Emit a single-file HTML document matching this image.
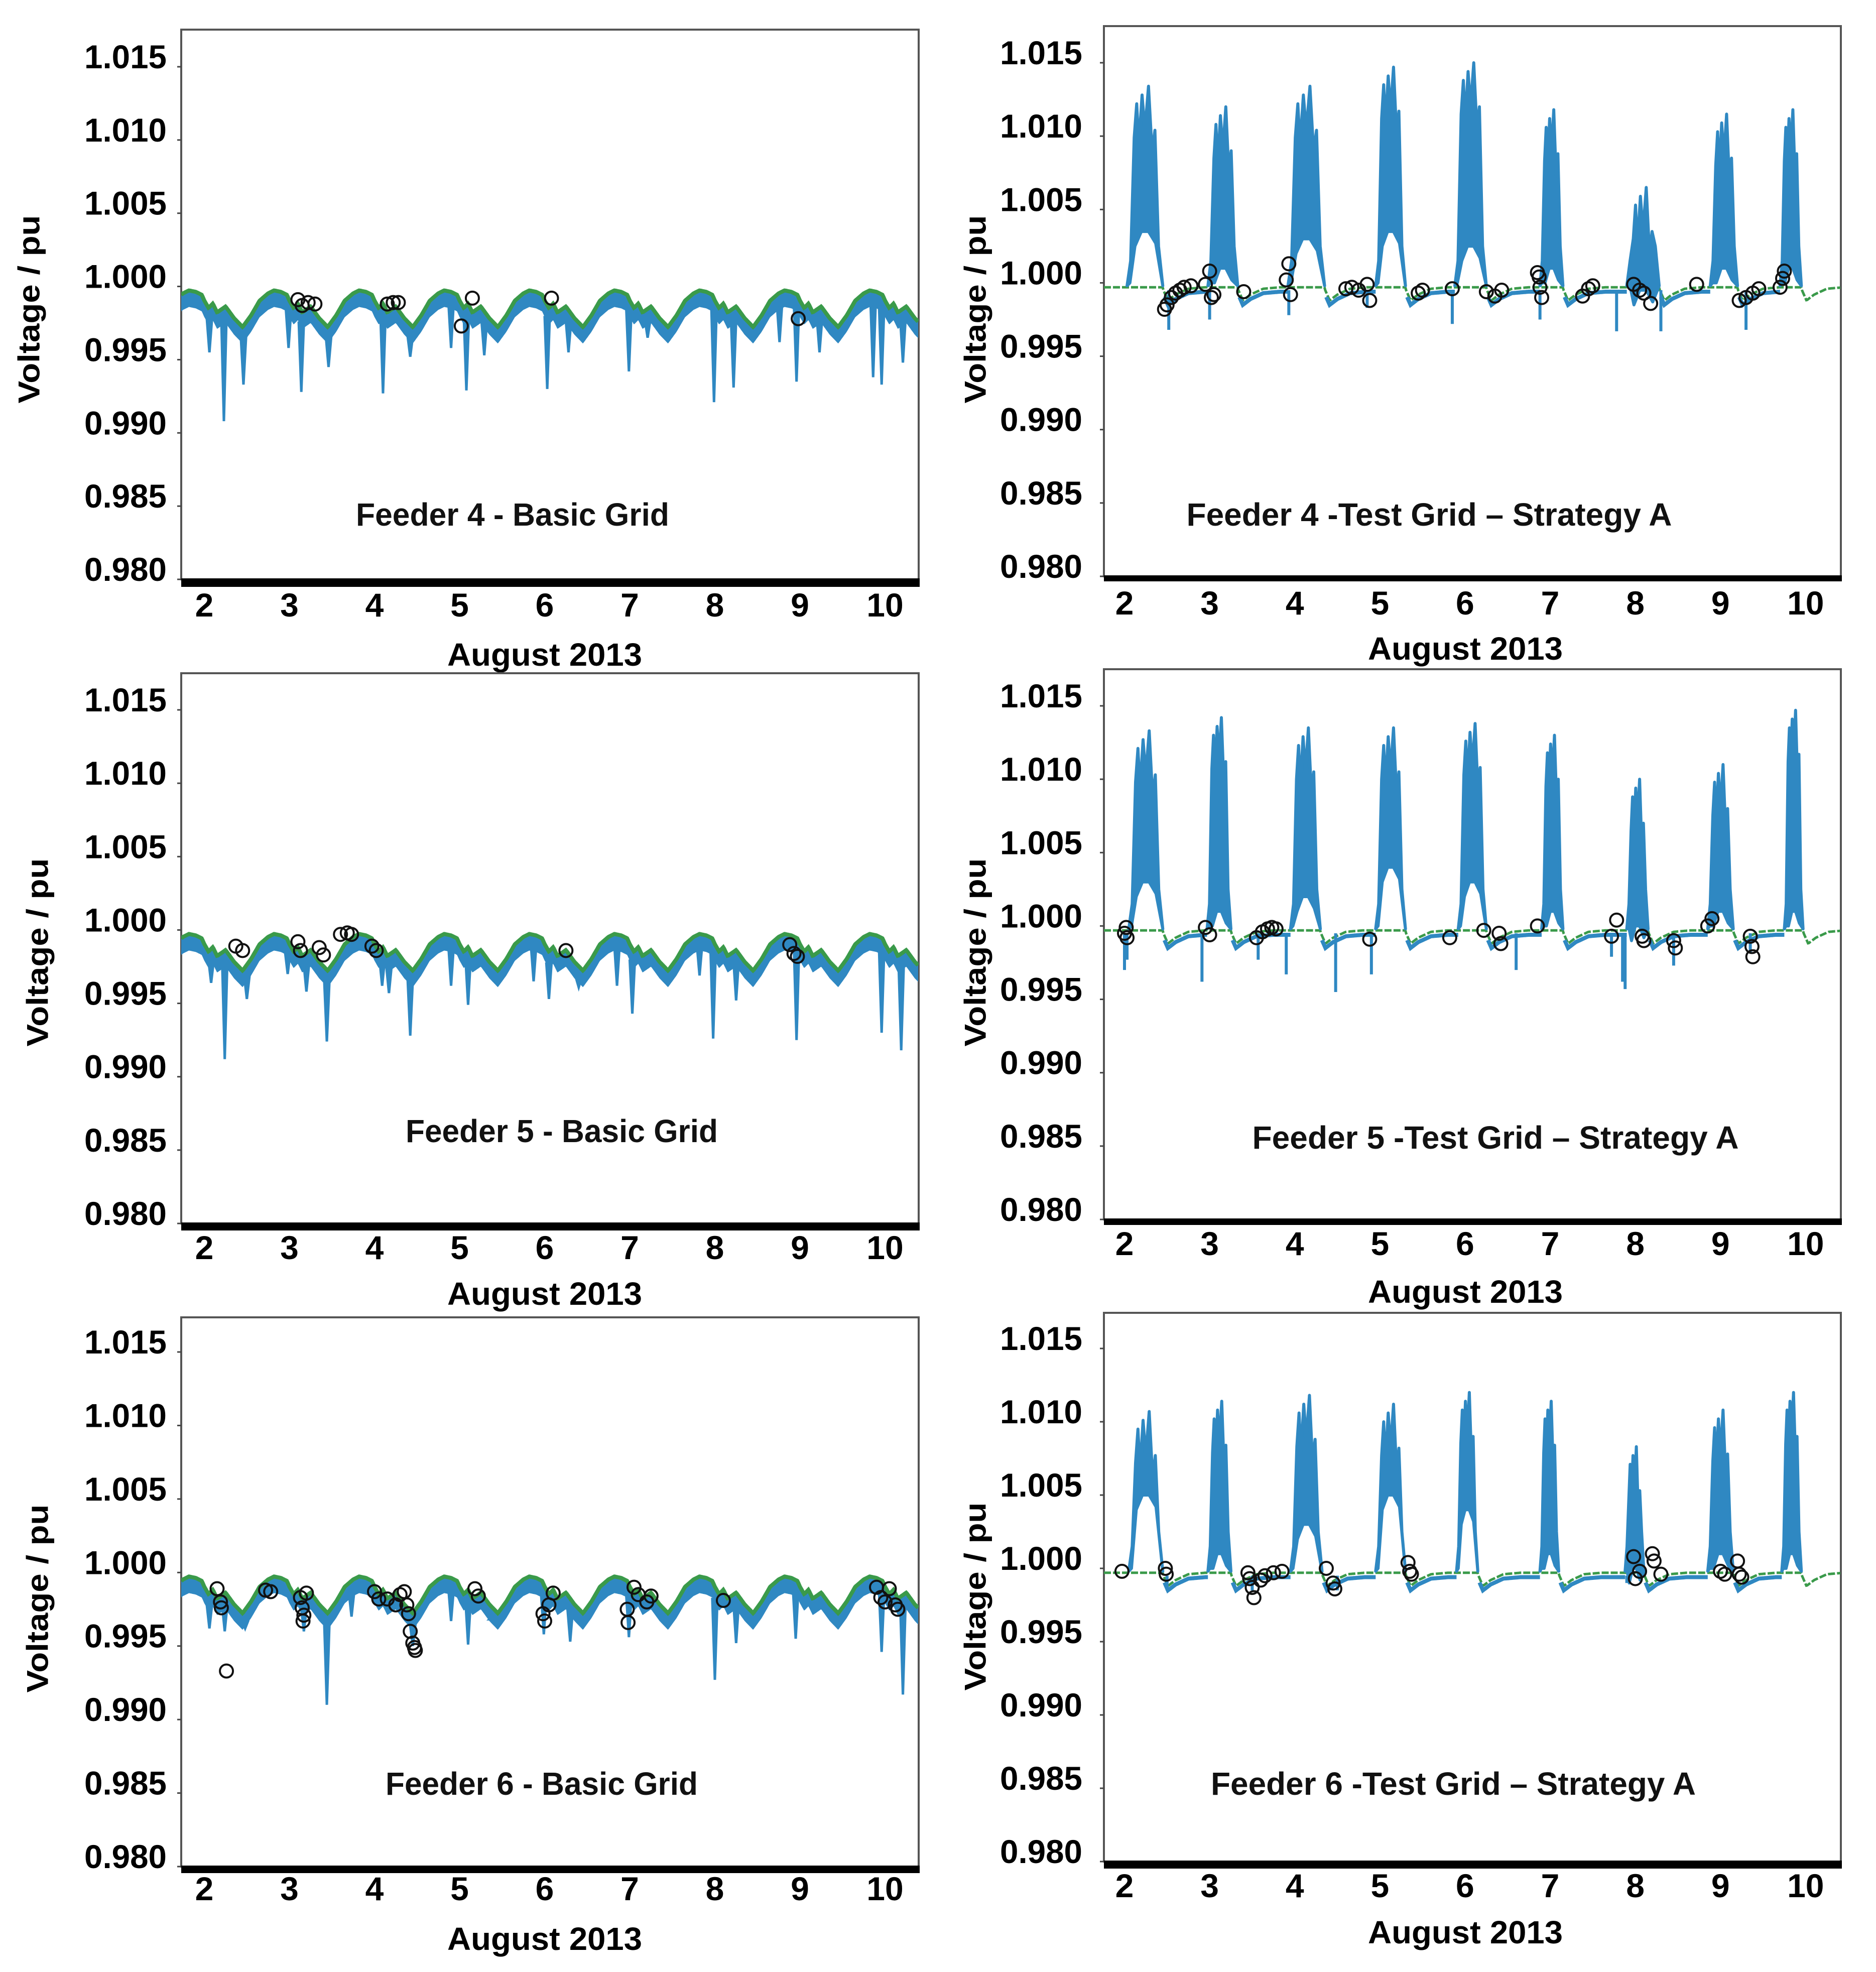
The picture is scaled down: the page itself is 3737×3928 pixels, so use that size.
<!DOCTYPE html>
<html><head><meta charset="utf-8"><title>Feeder voltages</title>
<style>html,body{margin:0;padding:0;background:#fff}svg{display:block}</style></head>
<body>
<svg id="fig" xmlns="http://www.w3.org/2000/svg" width="3737" height="3928" viewBox="0 0 3737 3928"></svg>
<script>
// ---------- shared data ----------
const yTicks = [1.015, 1.010, 1.005, 1.000, 0.995, 0.990, 0.985, 0.980];
const xTicks = [2, 3, 4, 5, 6, 7, 8, 9, 10];
// basic-grid daily profile (phase of day, voltage)
const basicPhase = [0.0, 0.05, 0.1, 0.15, 0.25, 0.35, 0.45, 0.55, 0.65, 0.75, 0.82, 0.9, 0.97];
const basicProfile = [0.9990, 0.9985, 0.9988, 0.9982, 0.9986, 0.9978, 0.9972, 0.9980, 0.9990, 0.9995, 0.9997, 0.9996, 0.9994];
// test-grid night green profile (phase after peak end)
const nightPhase = [0.0, 0.06, 0.15, 0.3, 0.5];
const nightProfile = [0.9996, 0.9988, 0.9992, 0.9996, 0.9997];

// ---------- Feeder 4 basic ----------
const f4bDipDays = [2.06, 2.23, 2.46, 2.99, 3.14, 3.46, 4.1, 4.42, 4.9, 5.08, 5.29, 6.03, 6.28, 6.99, 7.21, 7.99, 8.22, 8.76, 8.96, 9.23, 9.86, 9.96, 10.21];
const f4bDipVals = [0.9955, 0.9908, 0.9933, 0.9958, 0.9928, 0.9945, 0.9927, 0.9952, 0.9958, 0.9929, 0.9953, 0.9930, 0.9955, 0.9942, 0.9965, 0.9921, 0.9931, 0.9962, 0.9935, 0.9955, 0.9938, 0.9933, 0.9948];
const f4bCircDays = [3.1, 3.15, 3.22, 3.3, 4.15, 4.22, 4.28, 5.02, 5.15, 6.08, 8.98];
const f4bCircVals = [0.9991, 0.9987, 0.9989, 0.9988, 0.9988, 0.9989, 0.9989, 0.9973, 0.9992, 0.9992, 0.9978];
// ---------- Feeder 5 basic ----------
const f5bDipDays = [2.08, 2.24, 2.5, 2.98, 3.2, 3.44, 4.09, 4.17, 4.42, 4.9, 5.1, 5.87, 6.05, 6.4, 6.85, 7.03, 7.35, 7.82, 7.98, 8.25, 8.96, 9.96, 10.19];
const f5bDipVals = [0.9964, 0.9912, 0.9953, 0.9970, 0.9958, 0.9924, 0.9962, 0.9957, 0.9928, 0.9962, 0.9949, 0.9965, 0.9953, 0.9961, 0.9962, 0.9943, 0.9970, 0.9969, 0.9926, 0.9952, 0.9925, 0.9930, 0.9918];
const f5bCircDays = [2.37, 2.45, 3.1, 3.13, 3.35, 3.4, 3.6, 3.68, 3.73, 3.97, 4.02, 6.25, 8.88, 8.93, 8.97];
const f5bCircVals = [0.9989, 0.9986, 0.9992, 0.9986, 0.9988, 0.9983, 0.9997, 0.9998, 0.9997, 0.9989, 0.9986, 0.9986, 0.9990, 0.9984, 0.9982];
// ---------- Feeder 6 basic ----------
const f6bDipDays = [2.06, 2.24, 2.48, 3.17, 3.44, 3.73, 4.45, 4.9, 5.1, 5.38, 5.99, 6.3, 6.99, 8.0, 8.25, 8.95, 9.96, 10.21];
const f6bDipVals = [0.9962, 0.9960, 0.9962, 0.9960, 0.9910, 0.9970, 0.9950, 0.9967, 0.9951, 0.9970, 0.9958, 0.9953, 0.9956, 0.9927, 0.9952, 0.9955, 0.9946, 0.9917];
const f6bCircDays = [2.15, 2.19, 2.2, 2.26, 2.72, 2.78, 3.13, 3.15, 3.17, 3.16, 3.2, 4.0, 4.05, 4.15, 4.25, 4.3, 4.35, 4.38, 4.4, 4.42, 4.45, 4.47, 4.48, 5.18, 5.22, 5.98, 6.0, 6.05, 6.1, 6.97, 6.98, 7.05, 7.1, 7.2, 7.25, 8.1, 9.9, 9.95, 10.0, 10.05, 10.12, 10.15];
const f6bCircVals = [0.9989, 0.9980, 0.9976, 0.9933, 0.9988, 0.9987, 0.9983, 0.9976, 0.9971, 0.9967, 0.9986, 0.9987, 0.9982, 0.9982, 0.9978, 0.9985, 0.9987, 0.9978, 0.9972, 0.9960, 0.9952, 0.9949, 0.9947, 0.9989, 0.9984, 0.9972, 0.9967, 0.9978, 0.9986, 0.9975, 0.9966, 0.9990, 0.9985, 0.9980, 0.9984, 0.9981, 0.9990, 0.9983, 0.9980, 0.9989, 0.9978, 0.9975];

// ---------- Feeder 4 test ----------
const f4tPeakStart = [2.03, 2.98, 3.92, 4.95, 5.88, 6.88, 7.9, 8.88, 9.7];
const f4tPeakEnd = [2.45, 3.33, 4.35, 5.3, 6.25, 7.15, 8.28, 9.2, 9.95];
const f4tPeakTop = [1.0134, 1.0120, 1.0134, 1.0147, 1.0150, 1.0118, 1.0065, 1.0115, 1.0118];
const f4tPeakLow = [1.0035, 1.0010, 1.0030, 1.0035, 1.0025, 1.0010, 0.9995, 1.0010, 1.0010];
const f4tDipDays = [2.52, 3.0, 3.93, 4.85, 5.85, 6.88, 7.78, 8.3, 9.3];
const f4tDipVals = [0.9968, 0.9975, 0.9978, 0.9983, 0.9972, 0.9975, 0.9967, 0.9967, 0.9968];
const f4tCircDays = [2.47, 2.5, 2.55, 2.6, 2.65, 2.7, 2.78, 2.95, 3.0, 3.02, 3.05, 3.4, 3.9, 3.93, 3.95, 4.6, 4.67, 4.75, 4.85, 4.88, 5.45, 5.5, 5.85, 6.25, 6.35, 6.43, 6.85, 6.87, 6.88, 6.9, 7.38, 7.45, 7.5, 7.98, 8.05, 8.1, 8.18, 8.72, 9.22, 9.3, 9.38, 9.45, 9.7, 9.73, 9.75];
const f4tCircVals = [0.9982, 0.9985, 0.9990, 0.9993, 0.9995, 0.9997, 0.9998, 0.9999, 1.0008, 0.9990, 0.9992, 0.9994, 1.0002, 1.0013, 0.9992, 0.9996, 0.9997, 0.9995, 0.9999, 0.9988, 0.9993, 0.9995, 0.9996, 0.9994, 0.9991, 0.9995, 1.0007, 1.0004, 0.9997, 0.9990, 0.9991, 0.9996, 0.9998, 0.9999, 0.9995, 0.9993, 0.9986, 0.9999, 0.9988, 0.9990, 0.9993, 0.9996, 0.9997, 1.0003, 1.0008];
// ---------- Feeder 5 test ----------
const f5tPeakStart = [2.05, 2.97, 3.95, 4.95, 5.92, 6.9, 7.9, 8.85, 9.75];
const f5tPeakEnd = [2.45, 3.25, 4.3, 5.3, 6.25, 7.15, 8.15, 9.15, 9.97];
const f5tPeakTop = [1.0133, 1.0142, 1.0135, 1.0135, 1.0138, 1.0130, 1.0100, 1.0110, 1.0147];
const f5tPeakLow = [1.0030, 1.0010, 1.0020, 1.0040, 1.0030, 1.0010, 1.0000, 1.0010, 1.0010];
const f5tDipDays = [2.0, 2.03, 2.91, 3.57, 3.9, 4.48, 4.9, 6.6, 7.72, 7.85, 7.88, 8.45, 9.35];
const f5tDipVals = [0.9970, 0.9977, 0.9962, 0.9977, 0.9967, 0.9955, 0.9967, 0.9970, 0.9979, 0.9962, 0.9957, 0.9973, 0.9982];
const f5tCircDays = [2.0, 2.02, 2.03, 2.95, 3.0, 3.55, 3.62, 3.68, 3.73, 3.78, 4.88, 5.82, 6.22, 6.4, 6.42, 6.85, 7.72, 7.78, 8.08, 8.1, 8.45, 8.47, 8.85, 8.9, 9.35, 9.37, 9.38];
const f5tCircVals = [0.9995, 0.9999, 0.9992, 0.9999, 0.9994, 0.9992, 0.9996, 0.9998, 0.9999, 0.9998, 0.9991, 0.9992, 0.9997, 0.9995, 0.9988, 1.0000, 0.9993, 1.0004, 0.9993, 0.9990, 0.9990, 0.9985, 1.0000, 1.0005, 0.9993, 0.9986, 0.9979];
// ---------- Feeder 6 test ----------
const f6tPeakStart = [2.05, 2.98, 3.95, 4.95, 5.9, 6.88, 7.88, 8.85, 9.72];
const f6tPeakEnd = [2.45, 3.25, 4.32, 5.3, 6.15, 7.1, 8.1, 9.15, 9.95];
const f6tPeakTop = [1.0107, 1.0114, 1.0118, 1.0112, 1.0120, 1.0114, 1.0083, 1.0108, 1.0120];
const f6tPeakLow = [1.0050, 1.0010, 1.0030, 1.0050, 1.0040, 1.0010, 1.0000, 1.0010, 1.0010];
const f6tDipDays = [2.5, 3.5, 4.5, 7.9];
const f6tDipVals = [0.9985, 0.9985, 0.9985, 0.9990];
const f6tCircDays = [1.97, 2.48, 2.49, 3.45, 3.47, 3.5, 3.52, 3.6, 3.65, 3.75, 3.85, 4.37, 4.45, 4.47, 5.33, 5.35, 5.37, 7.98, 8.0, 8.05, 8.2, 8.22, 8.3, 9.0, 9.05, 9.2, 9.22, 9.25];
const f6tCircVals = [0.9998, 1.0000, 0.9996, 0.9997, 0.9993, 0.9987, 0.9980, 0.9992, 0.9995, 0.9997, 0.9998, 1.0000, 0.9990, 0.9986, 1.0004, 0.9998, 0.9996, 1.0008, 0.9993, 0.9998, 1.0010, 1.0005, 0.9996, 0.9998, 0.9996, 1.0005, 0.9996, 0.9994];

// ---------- layout ----------
const NS = 'http://www.w3.org/2000/svg';
const svg = document.getElementById('fig');
const BLUE = '#2f88c2', GREEN = '#3a9a4a';
function mk(tag, attrs, parent) {
  const e = document.createElementNS(NS, tag);
  for (const k in attrs) e.setAttribute(k, attrs[k]);
  (parent || svg).appendChild(e);
  return e;
}
function interp(xs, ys, x) {
  if (x <= xs[0]) return ys[0];
  for (let i = 1; i < xs.length; i++) if (x <= xs[i]) { const t = (x - xs[i-1]) / (xs[i] - xs[i-1]); return ys[i-1] + t * (ys[i] - ys[i-1]); }
  return ys[ys.length - 1];
}
function basicAt(d) {
  const p = d - Math.floor(d);
  const xs = [basicPhase[basicPhase.length-1] - 1].concat(basicPhase, [basicPhase[0] + 1]);
  const ys = [basicProfile[basicProfile.length-1]].concat(basicProfile, [basicProfile[0]]);
  return interp(xs, ys, p);
}

function panel(cfg) {
  const g = mk('g', {});
  
  
  const step = (cfg.y980 - cfg.y1015) / 7;
  const X = d => cfg.x2 + (d - 2) * cfg.dayW;
  const Y = v => cfg.y980 - (v - 0.98) / 0.005 * step;
  const dMin = 2 - (cfg.x2 - cfg.L) / cfg.dayW, dMax = 2 + (cfg.R - cfg.x2) / cfg.dayW;
  const fr = mk('rect', {x: cfg.L, y: cfg.top, width: cfg.R - cfg.L, height: cfg.y980 - cfg.top, fill: '#fff', stroke: '#555', 'stroke-width': 4}, g);
  
  
  const clipId = 'clip-' + cfg.name;
  const cp = mk('clipPath', {id: clipId}, g);
  mk('rect', {x: cfg.L, y: cfg.top, width: cfg.R - cfg.L, height: cfg.y980 - cfg.top}, cp);
  const data = mk('g', {'clip-path': 'url(#' + clipId + ')'}, g);
  
  

  if (cfg.type === 'basic') {
    let up = [], lo = [];
    for (let d = dMin; d <= dMax + 0.001; d += 0.01) { const v = basicAt(d); up.push(X(d).toFixed(1) + ',' + Y(v).toFixed(1)); lo.unshift(X(d).toFixed(1) + ',' + Y(v - 0.0011).toFixed(1)); }
    const band = mk('polygon', {points: up.concat(lo).join(' '), fill: BLUE}, data);
    
    
    cfg.dipDays.forEach((d, i) => {
      const b = basicAt(d) - 0.0008;
      const pts = [X(d - 0.03) + ',' + Y(b), X(d) + ',' + Y(cfg.dipVals[i]), X(d + 0.03) + ',' + Y(b)].join(' ');
      const p = mk('polygon', {points: pts, fill: BLUE, stroke: BLUE, 'stroke-width': 5}, data);
      
      
    });
    let gp = [];
    for (let d = dMin; d <= dMax + 0.001; d += 0.01) gp.push(X(d).toFixed(1) + ',' + Y(basicAt(d) + 0.00003).toFixed(1));
    const gl = mk('polyline', {points: gp.join(' '), fill: 'none', stroke: GREEN, 'stroke-width': 8}, data);
    
    
  } else {
    const ends = cfg.peakEnd;
    function nightAt(d) {
      let best = -1;
      for (let i = 0; i < ends.length; i++) if (ends[i] <= d) best = i;
      const ph = best < 0 ? 0.5 : d - ends[best];
      return interp(nightPhase, nightProfile, ph);
    }
    let gp = [];
    for (let d = dMin; d <= dMax + 0.001; d += 0.01) gp.push(X(d).toFixed(1) + ',' + Y(nightAt(d)).toFixed(1));
    const gl = mk('polyline', {points: gp.join(' '), fill: 'none', stroke: GREEN, 'stroke-width': 5, 'stroke-dasharray': '14 4'}, data);
    
    
    for (let i = 0; i < ends.length; i++) {
      const s = ends[i] + 0.02, e = (i + 1 < ends.length ? cfg.peakStart[i + 1] : ends[i] + 0.02);
      if (e <= s) continue;
      let bp = [];
      for (let d = s; d <= e; d += 0.01) bp.push(X(d).toFixed(1) + ',' + Y(nightAt(d) - 0.0003).toFixed(1));
      const bl = mk('polyline', {points: bp.join(' '), fill: 'none', stroke: BLUE, 'stroke-width': 8}, data);
      
      
    }
    cfg.peakStart.forEach((s, i) => {
      const e = cfg.peakEnd[i], top = cfg.peakTop[i], low = cfg.peakLow[i], w = e - s;
      const pts = [
        [s, 0.9998], [s + w * 0.1, 1.0015], [s + w * 0.2, top - 0.0035], [s + w * 0.27, top - 0.0012],
        [s + w * 0.33, top - 0.0040], [s + w * 0.42, top - 0.0006], [s + w * 0.5, top - 0.0030],
        [s + w * 0.6, top], [s + w * 0.7, top - 0.0045], [s + w * 0.78, top - 0.0030],
        [s + w * 0.88, 1.0025], [e, 0.9998],
        [s + w * 0.8, low - 0.0008], [s + w * 0.6, low], [s + w * 0.4, low], [s + w * 0.22, low - 0.0010], [s + w * 0.08, 1.0000]
      ].map(p => X(p[0]).toFixed(1) + ',' + Y(p[1]).toFixed(1)).join(' ');
      const pk = mk('polygon', {points: pts, fill: BLUE, stroke: BLUE, 'stroke-width': 6, 'stroke-linejoin': 'round'}, data);
      
      
    });
    cfg.dipDays.forEach((d, i) => {
      const l = mk('line', {x1: X(d), y1: Y(0.9995), x2: X(d), y2: Y(cfg.dipVals[i]), stroke: BLUE, 'stroke-width': 6}, data);
      
      
    });
  }
  cfg.circDays.forEach((d, i) => {
    const c = mk('circle', {cx: X(d), cy: Y(cfg.circVals[i]), r: 13, fill: 'none', stroke: '#111', 'stroke-width': 4}, data);
    
    
  });
  const bar = mk('rect', {x: cfg.L, y: cfg.y980 - 2, width: cfg.R - cfg.L + 2, height: cfg.barB - cfg.y980 + 2, fill: '#000'}, g);
  
  
  yTicks.forEach(v => {
    const t = mk('line', {x1: cfg.L - 8, x2: cfg.L, y1: Y(v), y2: Y(v), stroke: '#444', 'stroke-width': 3}, g);
    
    
    const tx = mk('text', {x: cfg.labR, y: Y(v) - 20, 'text-anchor': 'end', 'dominant-baseline': 'central', 'font-family': 'Liberation Sans, sans-serif', 'font-weight': 'bold', 'font-size': 66, textLength: 164, lengthAdjust: 'spacingAndGlyphs', fill: '#000'}, g);
    tx.textContent = v.toFixed(3);
    
    
  });
  xTicks.forEach(d => {
    const tx = mk('text', {x: X(d), y: cfg.labY, 'text-anchor': 'middle', 'dominant-baseline': 'central', 'font-family': 'Liberation Sans, sans-serif', 'font-weight': 'bold', 'font-size': 66, fill: '#000'}, g);
    tx.textContent = String(d);
    
    
  });
  const xt = mk('text', {x: cfg.augX, y: cfg.augY, 'text-anchor': 'middle', 'dominant-baseline': 'central', 'font-family': 'Liberation Sans, sans-serif', 'font-weight': 'bold', 'font-size': 64, textLength: 388, lengthAdjust: 'spacingAndGlyphs', fill: '#000'}, g);
  xt.textContent = 'August  2013';
  
  
  const yt = mk('text', {x: 0, y: 0, transform: 'translate(' + cfg.ylX + ',' + cfg.ylY + ') rotate(-90)', 'text-anchor': 'middle', 'dominant-baseline': 'central', 'font-family': 'Liberation Sans, sans-serif', 'font-weight': 'bold', 'font-size': 60, textLength: 375, lengthAdjust: 'spacingAndGlyphs', fill: '#000'}, g);
  yt.textContent = 'Voltage / pu';
  
  
  const tt = mk('text', {x: cfg.titleX, y: cfg.titleY, 'text-anchor': 'middle', 'dominant-baseline': 'central', 'font-family': 'Liberation Sans, sans-serif', 'font-weight': 'bold', 'font-size': 64, textLength: cfg.titleW, lengthAdjust: 'spacingAndGlyphs', fill: '#111'}, g);
  tt.textContent = cfg.title;
  
  
}

const leftCol = {x2: 407, dayW: 169.5, L: 361, R: 1830, labR: 332, augX: 1085, ylX: 58};
const rightCol = {x2: 2240, dayW: 169.6, L: 2199, R: 3667, labR: 2156, augX: 2919, ylX: 1943};

panel(Object.assign({}, leftCol, {name: 'feeder4-basic-panel', type: 'basic', top: 59, y1015: 133, y980: 1154, barB: 1169, labY: 1205, augY: 1304, titleX: 1021, titleY: 1025, titleW: 624, ylY: 616, title: 'Feeder 4 - Basic Grid', dipDays: f4bDipDays, dipVals: f4bDipVals, circDays: f4bCircDays, circVals: f4bCircVals}));
panel(Object.assign({}, leftCol, {name: 'feeder5-basic-panel', type: 'basic', top: 1341, y1015: 1414, y980: 2437, barB: 2451, labY: 2485, augY: 2577, titleX: 1119, titleY: 2253, titleW: 622, ylX: 75, ylY: 1897, title: 'Feeder 5 - Basic Grid', dipDays: f5bDipDays, dipVals: f5bDipVals, circDays: f5bCircDays, circVals: f5bCircVals}));
panel(Object.assign({}, leftCol, {name: 'feeder6-basic-panel', type: 'basic', top: 2624, y1015: 2693, y980: 3718, barB: 3731, labY: 3762, augY: 3862, titleX: 1079, titleY: 3553, titleW: 622, ylX: 75, ylY: 3184, title: 'Feeder 6 - Basic Grid', dipDays: f6bDipDays, dipVals: f6bDipVals, circDays: f6bCircDays, circVals: f6bCircVals}));
panel(Object.assign({}, rightCol, {name: 'feeder4-test-panel', type: 'test', top: 52, y1015: 125, y980: 1148, barB: 1158, labY: 1201, augY: 1292, titleX: 2847, titleY: 1025, titleW: 967, ylY: 616, title: 'Feeder 4 -Test Grid \u2013 Strategy A', peakStart: f4tPeakStart, peakEnd: f4tPeakEnd, peakTop: f4tPeakTop, peakLow: f4tPeakLow, dipDays: f4tDipDays, dipVals: f4tDipVals, circDays: f4tCircDays, circVals: f4tCircVals}));
panel(Object.assign({}, rightCol, {name: 'feeder5-test-panel', type: 'test', top: 1333, y1015: 1406, y980: 2429, barB: 2440, labY: 2477, augY: 2573, titleX: 2979, titleY: 2266, titleW: 969, ylY: 1897, title: 'Feeder 5 -Test Grid \u2013 Strategy A', peakStart: f5tPeakStart, peakEnd: f5tPeakEnd, peakTop: f5tPeakTop, peakLow: f5tPeakLow, dipDays: f5tDipDays, dipVals: f5tDipVals, circDays: f5tCircDays, circVals: f5tCircVals}));
panel(Object.assign({}, rightCol, {name: 'feeder6-test-panel', type: 'test', top: 2615, y1015: 2686, y980: 3708, barB: 3722, labY: 3756, augY: 3849, titleX: 2895, titleY: 3553, titleW: 966, ylY: 3180, title: 'Feeder 6 -Test Grid \u2013 Strategy A', peakStart: f6tPeakStart, peakEnd: f6tPeakEnd, peakTop: f6tPeakTop, peakLow: f6tPeakLow, dipDays: f6tDipDays, dipVals: f6tDipVals, circDays: f6tCircDays, circVals: f6tCircVals}));
</script>
</body></html>
